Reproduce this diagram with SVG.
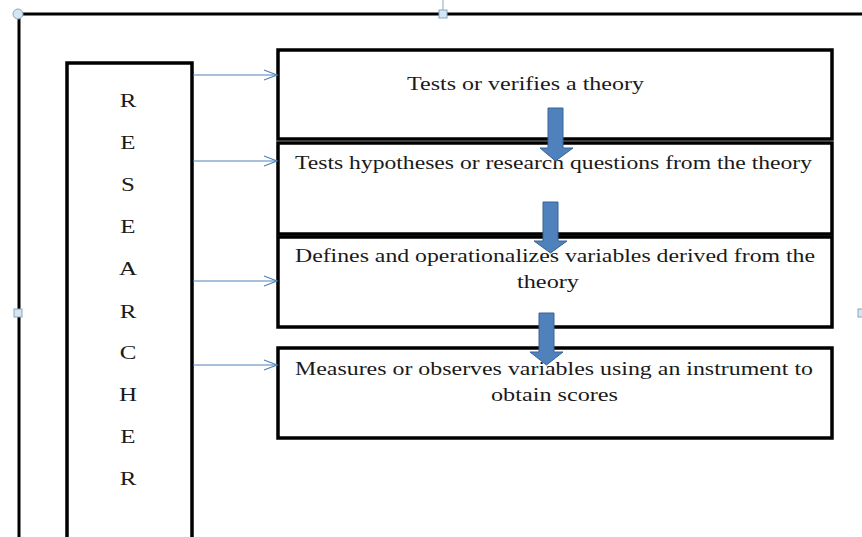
<svg xmlns="http://www.w3.org/2000/svg" width="862" height="537" viewBox="0 0 862 537">
<style>
.frame{fill:none;stroke:#000;stroke-width:3}
.box{fill:#fff;stroke:#000;stroke-width:3.5}
.conn{stroke:#4F81BD;stroke-width:1.2;fill:none}
.blk{fill:#4F81BD;stroke:#3A6296;stroke-width:1}
.h{fill:#D4E6F2;stroke:#8AA6BF;stroke-width:1}
text{font-family:'Liberation Serif','Times New Roman',serif;font-size:19.5px;fill:#1a1a1a}
</style>
<defs>
<marker id="open" markerWidth="16" markerHeight="12" refX="14" refY="6" orient="auto" markerUnits="userSpaceOnUse">
<path d="M1,1 L14,6 L1,11" fill="none" stroke="#4F81BD" stroke-width="1.2"/>
</marker>
</defs>
<rect width="862" height="537" fill="#fff"/>
<g id="frame">
<path class="frame" d="M19,537 L19,14 L862,14"/>
<line x1="443" y1="0" x2="443" y2="14" stroke="#8AA6BF" stroke-width="1"/>
<circle class="h" cx="18" cy="14" r="5"/>
<rect class="h" x="439" y="10" width="8" height="8"/>
<rect class="h" x="14" y="309" width="8" height="8"/>
<rect class="h" x="858" y="309" width="8" height="8"/>
</g>
<g id="researcher">
<rect class="box" x="67" y="63" width="125" height="480"/>
<g text-anchor="middle" transform="matrix(1.28,0,0,1,-35.84,0)">
<text x="128" y="107">R</text>
<text x="128" y="149">E</text>
<text x="128" y="191">S</text>
<text x="128" y="233">E</text>
<text x="128" y="275">A</text>
<text x="128" y="318">R</text>
<text x="128" y="359">C</text>
<text x="128" y="401">H</text>
<text x="128" y="443">E</text>
<text x="128" y="485">R</text>
</g>
</g>
<g id="box1">
<rect class="box" x="278" y="50" width="554" height="89"/>
<text x="407" y="90" textLength="237" lengthAdjust="spacingAndGlyphs">Tests or verifies a theory</text>
</g>
<g id="box2">
<rect class="box" x="278" y="143" width="554" height="91"/>
<text x="295" y="169" textLength="517" lengthAdjust="spacingAndGlyphs">Tests hypotheses or research questions from the theory</text>
</g>
<g id="box3">
<rect class="box" x="278" y="237" width="554" height="90"/>
<text x="295" y="262" textLength="520" lengthAdjust="spacingAndGlyphs">Defines and operationalizes variables derived from the</text>
<text x="517" y="288" textLength="62" lengthAdjust="spacingAndGlyphs">theory</text>
</g>
<g id="box4">
<rect class="box" x="278" y="348" width="554" height="90"/>
<text x="295" y="375" textLength="518" lengthAdjust="spacingAndGlyphs">Measures or observes variables using an instrument to</text>
<text x="491" y="401" textLength="127" lengthAdjust="spacingAndGlyphs">obtain scores</text>
</g>
<g id="connectors">
<line class="conn" x1="193" y1="75" x2="277" y2="75" marker-end="url(#open)"/>
<line class="conn" x1="193" y1="161" x2="277" y2="161" marker-end="url(#open)"/>
<line class="conn" x1="193" y1="281" x2="277" y2="281" marker-end="url(#open)"/>
<line class="conn" x1="193" y1="365" x2="277" y2="365" marker-end="url(#open)"/>
<path class="blk" d="M548,108 L563,108 L563,148 L573,148 L555.5,161 L540,148 L548,148 Z"/>
<path class="blk" d="M543,202 L558,202 L558,241 L567,241 L550.5,253 L534,241 L543,241 Z"/>
<path class="blk" d="M539,313 L554,313 L554,352 L563,352 L546.5,365 L530,352 L539,352 Z"/>
</g>
</svg>
